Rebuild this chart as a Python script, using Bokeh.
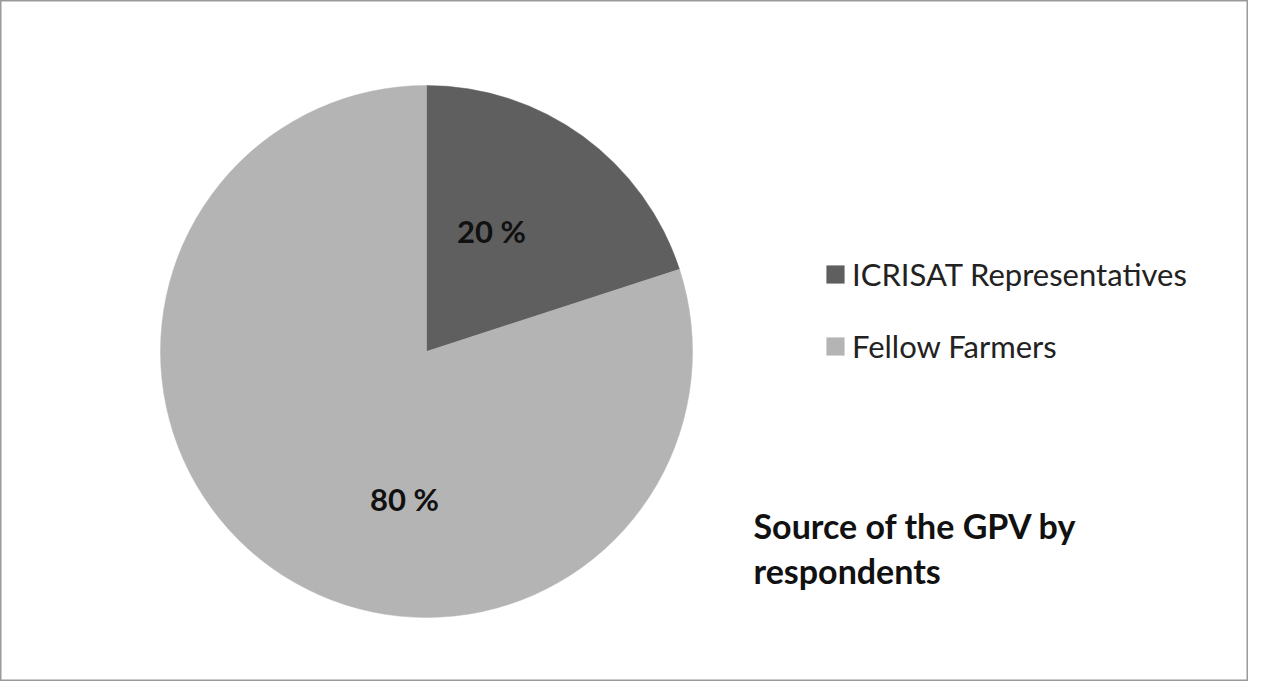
import math
from bokeh.plotting import figure
from bokeh.models import Range1d, Legend, LegendItem, ColumnDataSource
from bokeh.core.properties import value
from bokeh.embed import file_html
from bokeh.resources import INLINE

# ---- data ----
categories = ["ICRISAT Representatives", "Fellow Farmers"]
shares = [20, 80]
pct_labels = ["20 %", "80 %"]
colors = ["#5f5f5f", "#b4b4b4"]
title_lines = ["Source of the GPV by", "respondents"]

# ---- layout (pixels) ----
W, H = 1248, 681
CX, CY_TOP, R = 426, 351, 266
CY = H - CY_TOP
LABEL_OFFSETS = [(65, 121), (-22, -147)]  # label placement relative to centre
FONT = "Lato"

p = figure(width=W, height=H, output_backend="svg", toolbar_location=None,
           x_range=Range1d(0, W), y_range=Range1d(0, H),
           min_border=0, match_aspect=False)
p.axis.visible = False
p.grid.visible = False
p.outline_line_color = "#9a9a9a"
p.outline_line_width = 2
p.background_fill_color = "white"
p.border_fill_color = "white"

total = sum(shares)
cum = 0
renderers = []
for cat, s, c in zip(categories, shares, colors):
    start = math.pi / 2 - 2 * math.pi * cum / total
    end = math.pi / 2 - 2 * math.pi * (cum + s) / total
    src = ColumnDataSource(dict(x=[CX], y=[CY], start=[start], end=[end]))
    r = p.wedge(x="x", y="y", radius=R, start_angle="start", end_angle="end",
                direction="clock", fill_color=c, line_color=c, line_width=0.5,
                source=src)
    renderers.append(r)
    cum += s

lx = [CX + dx for dx, dy in LABEL_OFFSETS]
ly = [CY + dy for dx, dy in LABEL_OFFSETS]
p.text(x=lx, y=ly, text=pct_labels, text_font=value(FONT), text_font_style="bold",
       text_font_size="31px", text_align="center", text_baseline="middle",
       text_color="#111111")

# title
p.text(x=[753, 753], y=[H - 525, H - 570], text=title_lines, text_font=value(FONT),
       text_font_style="bold", text_font_size="34px", text_align="left",
       text_baseline="middle", text_color="#111111")

legend = Legend(items=[LegendItem(label=c, renderers=[r]) for c, r in zip(categories, renderers)],
                location=(824, H - 366), orientation="vertical",
                glyph_width=22, glyph_height=22, label_height=40, spacing=32,
                label_standoff=6, padding=0, margin=0,
                label_text_font=FONT, label_text_font_size="31px",
                label_text_color="#222222",
                border_line_color=None, background_fill_alpha=0)
p.add_layout(legend, "center")

open("out.html", "w").write(file_html(p, INLINE))
